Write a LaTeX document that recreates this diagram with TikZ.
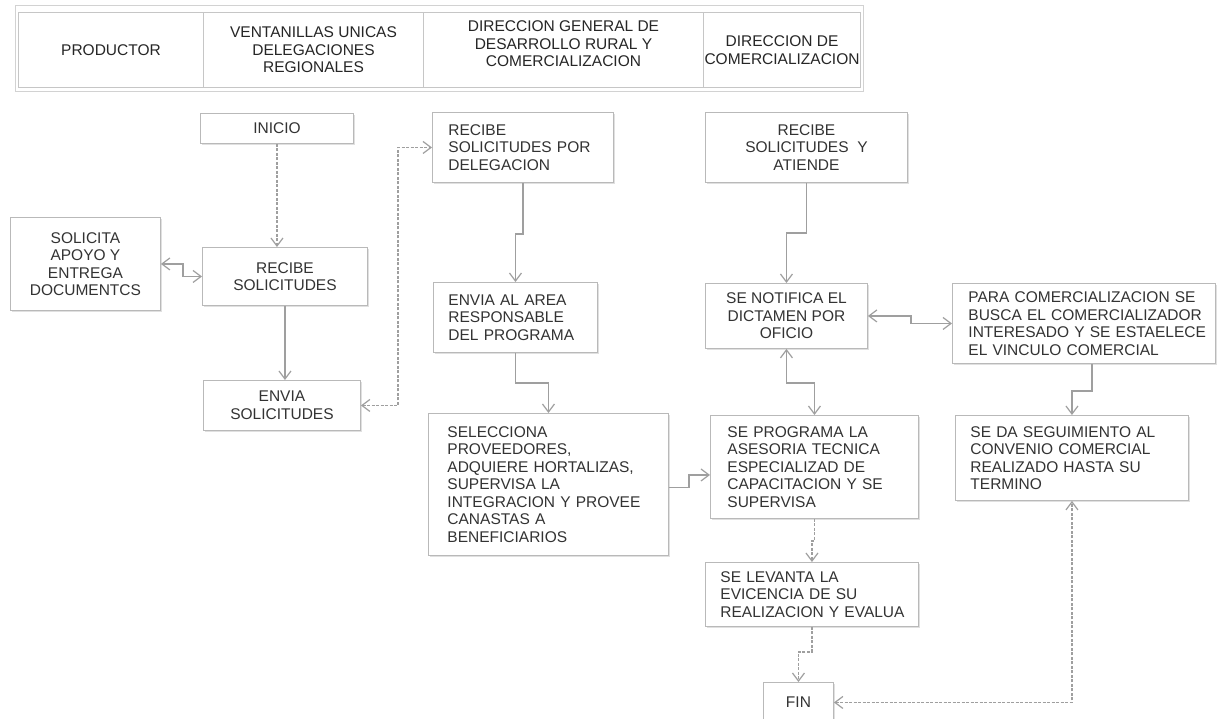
\documentclass[tikz,border=0pt]{standalone}
\usepackage{fontspec}
\setmainfont{Liberation Sans}
\usetikzlibrary{arrows.meta,shadows}
\newcommand{\bodyfont}{\fontsize{15.5pt}{17.5pt}\selectfont\hyphenpenalty=10000\exhyphenpenalty=10000\hbadness=10000\hfuzz=50pt}
\begin{document}
\begin{tikzpicture}[x=1pt,y=-1pt,
  hdr/.style={draw=gray!45, line width=1pt, fill=white, anchor=north west, inner sep=0pt,
    align=center, font=\bodyfont, text=black!85, minimum height=75pt},
  box/.style={draw=gray!55, line width=0.9pt, fill=white, anchor=north west, inner sep=0pt,
    font=\bodyfont, text=black!80,
    drop shadow={shadow xshift=1.5pt, shadow yshift=-2pt, fill=black, opacity=0.12}},
  boxc/.style={box, align=center},
  boxl/.style={box, align=left},
  tip/.tip={Straight Barb[length=8pt,width=12pt]},
  arr/.style={draw=gray!75, line width=1.2pt, -tip},
  darr/.style={draw=gray!75, line width=1.2pt, tip-tip},
  dsh/.style={dash pattern=on 3pt off 1.5pt}
]
\useasboundingbox[fill=white] (0,0) rectangle (1223,718);

% header
\node[draw=gray!35, line width=0.8pt, anchor=north west, inner sep=0pt,
  minimum width=848pt, minimum height=86pt] (frame) at (15,5) {};
\node[hdr, minimum width=185pt] (h1) at (18,12) {PRODUCTOR};
\node[hdr, minimum width=220pt] (h2) at (203,12) {VENTANILLAS UNICAS\\DELEGACIONES\\REGIONALES};
\node[hdr, minimum width=280pt] (h3) at (423,12) {DIRECCION GENERAL DE\\DESARROLLO RURAL Y\\COMERCIALIZACION\\[-5pt]};
\node[hdr, minimum width=157pt] (h4) at (703,12) {DIRECCION DE\\COMERCIALIZACION};

% boxes
\node[boxc, minimum width=153pt, minimum height=30pt] (inicio) at (200,113) {INICIO};
\node[boxc, minimum width=150pt, minimum height=93pt] (solicita) at (10,217) {SOLICITA\\APOYO Y\\ENTREGA\\DOCUMENTCS};
\node[boxc, minimum width=165pt, minimum height=58pt] (recibe) at (202,247) {RECIBE\\SOLICITUDES};
\node[boxc, minimum width=157pt, minimum height=50pt] (envia) at (203,380) {ENVIA\\SOLICITUDES};

\node[boxl, inner xsep=16pt, text width=149pt, minimum height=70pt] (recibepor) at (432,112)
  {RECIBE\\SOLICITUDES~POR\\DELEGACION};
\node[boxl, inner xsep=15pt, text width=134pt, minimum height=70pt] (enviaarea) at (433,282)
  {ENVIA~AL~AREA\\RESPONSABLE\\DEL~PROGRAMA};
\node[boxl, inner xsep=19pt, text width=202pt, minimum height=142pt] (selecciona) at (428,413)
  {SELECCIONA\\PROVEEDORES,\\ADQUIERE~HORTALIZAS,\\SUPERVISA~LA\\INTEGRACION~Y~PROVEE\\CANASTAS~A\\BENEFICIARIOS};

\node[boxc, minimum width=202pt, minimum height=70pt] (atiende) at (705,112)
  {RECIBE\\SOLICITUDES~~Y\\ATIENDE};
\node[boxc, minimum width=162pt, minimum height=65pt] (notifica) at (705,283)
  {SE NOTIFICA EL\\DICTAMEN POR\\OFICIO};
\node[boxl, inner xsep=16pt, text width=231pt, minimum height=80pt] (para) at (952,283)
  {\mbox{PARA COMERCIALIZACION SE}\\\mbox{BUSCA EL COMERCIALIZADOR}\\\mbox{INTERESADO Y SE ESTAELECE}\\\mbox{EL VINCULO COMERCIAL}};
\node[boxl, inner xsep=17pt, text width=174pt, minimum height=103pt] (programa) at (710,415)
  {SE~PROGRAMA~LA\\ASESORIA~TECNICA\\ESPECIALIZAD~DE\\CAPACITACION~Y~SE\\SUPERVISA};
\node[boxl, inner xsep=15pt, text width=203pt, minimum height=85pt] (seguimiento) at (955,415)
  {SE~DA~SEGUIMIENTO~AL\\CONVENIO~COMERCIAL\\REALIZADO~HASTA~SU\\TERMINO};
\node[boxl, inner xsep=15pt, text width=183pt, minimum height=64pt] (levanta) at (705,562)
  {SE~LEVANTA~LA\\EVICENCIA~DE~SU\\REALIZACION~Y~EVALUA};
\node[boxc, minimum width=70pt, minimum height=40pt] (fin) at (763,682) {FIN};

% connectors
\draw[arr, dsh] (inicio.south) -- (inicio.south |- recibe.north);
\draw[darr] (solicita.east) -- ++(22,0) |- (recibe.west);
\draw[arr] (recibe.south) -- (recibe.south |- envia.north);
\draw[darr, dsh] (envia.east) -- ++(37,0) |- (recibepor.west);
\draw[arr] (recibepor.south) -- ++(0,51) -| (enviaarea.north);
\draw[arr] (enviaarea.south) -- ++(0,30) -| (selecciona.north);
\draw[arr] (atiende.south) -- ++(0,50) -| (notifica.north);
\draw[darr] (notifica.south) -- ++(0,34) -| (programa.north);
\draw[darr] (notifica.east) -- ++(43,0) |- (para.west);
\draw[arr] ([xshift=8pt]para.south) -- ++(0,27) -| (seguimiento.north);
\draw[arr] ([yshift=-3pt]selecciona.east) -- ++(20,0) |- ([yshift=-8pt]programa.west);
\draw[arr, dsh] (programa.south) -- ++(0,22) -| (levanta.north);
\draw[arr, dsh] (levanta.south) -- ++(0,25) -| (fin.north);
\draw[darr, dsh] (fin.east) -| (seguimiento.south);
\end{tikzpicture}
\end{document}
